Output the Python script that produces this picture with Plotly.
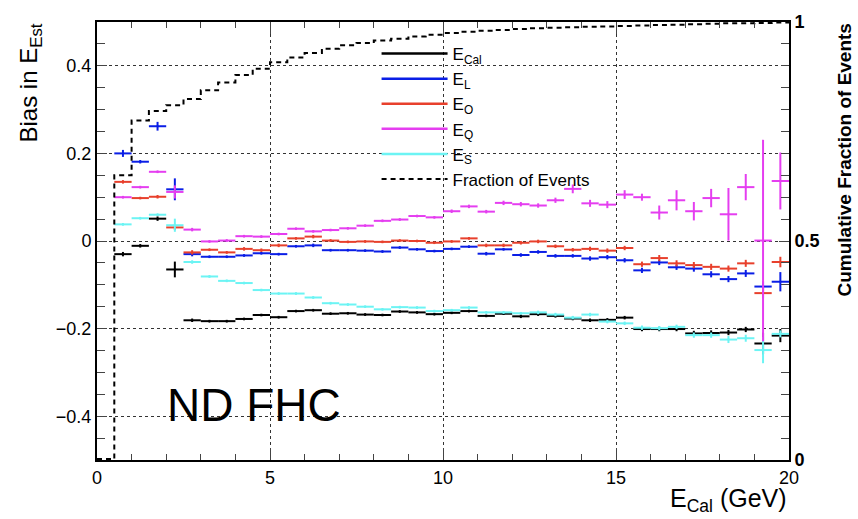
import plotly.graph_objects as go

# ---------------- data ----------------
bin_centers = [0.75 + 0.5 * i for i in range(39)]
half_width = [0.25] * 39

e_cal = [-0.030, -0.011, 0.051, -0.065, -0.181, -0.183, -0.183, -0.178, -0.169, -0.174,
         -0.160, -0.158, -0.166, -0.165, -0.168, -0.169, -0.161, -0.163, -0.167, -0.164,
         -0.160, -0.171, -0.166, -0.172, -0.167, -0.171, -0.177, -0.181, -0.180, -0.175,
         -0.201, -0.201, -0.201, -0.211, -0.210, -0.209, -0.202, -0.234, -0.216]
e_cal_err = [0.005, 0.004, 0.005, 0.018, 0.004, 0.003, 0.003, 0.003, 0.003, 0.003,
             0.003, 0.003, 0.003, 0.003, 0.003, 0.003, 0.003, 0.003, 0.003, 0.003,
             0.003, 0.003, 0.003, 0.004, 0.004, 0.004, 0.004, 0.004, 0.004, 0.004,
             0.005, 0.005, 0.005, 0.006, 0.006, 0.006, 0.006, 0.025, 0.015]

e_l = [0.200, 0.181, 0.262, 0.118, -0.030, -0.036, -0.036, -0.033, -0.028, -0.030,
       -0.012, -0.010, -0.021, -0.021, -0.022, -0.024, -0.015, -0.019, -0.023, -0.018,
       -0.013, -0.029, -0.019, -0.032, -0.025, -0.034, -0.034, -0.040, -0.037, -0.044,
       -0.067, -0.049, -0.060, -0.063, -0.076, -0.087, -0.074, -0.104, -0.093]
e_l_err = [0.008, 0.004, 0.010, 0.025, 0.005, 0.003, 0.003, 0.003, 0.003, 0.003,
           0.003, 0.004, 0.003, 0.003, 0.003, 0.003, 0.003, 0.003, 0.003, 0.003,
           0.003, 0.004, 0.003, 0.004, 0.004, 0.004, 0.004, 0.005, 0.005, 0.005,
           0.006, 0.006, 0.006, 0.007, 0.007, 0.007, 0.008, 0.012, 0.022]

e_o = [0.135, 0.098, 0.101, 0.031, -0.026, -0.020, -0.026, -0.018, -0.021, -0.010,
       0.006, 0.010, 0.001, -0.002, -0.001, -0.002, 0.001, 0.000, -0.004, -0.001,
       0.006, -0.010, -0.010, -0.004, -0.001, -0.012, -0.020, -0.018, -0.022, -0.016,
       -0.053, -0.039, -0.051, -0.055, -0.059, -0.063, -0.051, -0.119, -0.048]
e_o_err = [0.004, 0.003, 0.004, 0.006, 0.005, 0.003, 0.003, 0.004, 0.004, 0.004,
           0.003, 0.004, 0.003, 0.003, 0.003, 0.003, 0.003, 0.003, 0.003, 0.003,
           0.003, 0.004, 0.004, 0.004, 0.004, 0.004, 0.004, 0.005, 0.005, 0.005,
           0.006, 0.007, 0.007, 0.007, 0.007, 0.007, 0.008, 0.012, 0.012]

e_q = [0.100, 0.123, 0.158, 0.112, 0.026, -0.001, 0.001, 0.011, 0.010, 0.016,
       0.028, 0.022, 0.025, 0.029, 0.035, 0.046, 0.049, 0.057, 0.054, 0.068,
       0.079, 0.067, 0.087, 0.084, 0.081, 0.093, 0.119, 0.086, 0.083, 0.106,
       0.100, 0.065, 0.093, 0.068, 0.098, 0.061, 0.123, 0.001, 0.137]
e_q_err = [0.003, 0.003, 0.003, 0.015, 0.004, 0.003, 0.003, 0.003, 0.003, 0.003,
           0.003, 0.003, 0.003, 0.003, 0.003, 0.003, 0.003, 0.003, 0.003, 0.004,
           0.004, 0.004, 0.005, 0.005, 0.005, 0.006, 0.010, 0.008, 0.008, 0.010,
           0.008, 0.016, 0.023, 0.021, 0.021, 0.060, 0.030, 0.230, 0.065]

e_s = [0.038, 0.052, 0.060, 0.036, -0.048, -0.081, -0.091, -0.096, -0.112, -0.120,
       -0.120, -0.129, -0.142, -0.145, -0.150, -0.156, -0.151, -0.152, -0.160, -0.158,
       -0.152, -0.163, -0.163, -0.165, -0.163, -0.168, -0.175, -0.168, -0.184, -0.188,
       -0.198, -0.199, -0.196, -0.215, -0.215, -0.225, -0.222, -0.249, -0.212]
e_s_err = [0.003, 0.003, 0.003, 0.015, 0.004, 0.003, 0.003, 0.003, 0.003, 0.003,
           0.003, 0.003, 0.003, 0.003, 0.003, 0.003, 0.003, 0.003, 0.003, 0.003,
           0.003, 0.003, 0.003, 0.003, 0.004, 0.004, 0.004, 0.004, 0.004, 0.004,
           0.005, 0.005, 0.005, 0.006, 0.006, 0.008, 0.008, 0.030, 0.008]

frac_edges = [0.5 * i for i in range(41)]
frac_events = [0.002, 0.650, 0.775, 0.797, 0.810, 0.824, 0.844, 0.862, 0.879, 0.893,
               0.908, 0.919, 0.929, 0.939, 0.947, 0.952, 0.958, 0.962, 0.967, 0.971,
               0.975, 0.978, 0.980, 0.982, 0.984, 0.986, 0.987, 0.988, 0.989, 0.990,
               0.991, 0.992, 0.993, 0.994, 0.995, 0.996, 0.997, 0.997, 0.998, 0.999]

y_tick_vals = [-0.4, -0.2, 0, 0.2, 0.4]
y_tick_text = ["\u22120.4", "\u22120.2", "0", "0.2", "0.4"]
y2_tick_vals = [0, 0.5, 1]
y2_tick_text = ["<b>0</b>", "<b>0.5</b>", "<b>1</b>"]

series = [
    ("E<sub>Cal</sub>", e_cal, e_cal_err, "#000000"),
    ("E<sub>L</sub>", e_l, e_l_err, "#0a1ee6"),
    ("E<sub>O</sub>", e_o, e_o_err, "#e8402c"),
    ("E<sub>Q</sub>", e_q, e_q_err, "#e53ef0"),
    ("E<sub>S</sub>", e_s, e_s_err, "#6cf4f4"),
]

FONT = "Liberation Sans, Arial, Helvetica, sans-serif"

fig = go.Figure()

# cumulative fraction (right axis)
fig.add_trace(go.Scatter(
    x=frac_edges, y=frac_events + [frac_events[-1]], yaxis="y2",
    mode="lines", line=dict(color="black", width=2, dash="5px,4px", shape="hv"),
    showlegend=False, hoverinfo="skip"))

for idx in [0, 1, 2, 4, 3]:
    name, vals, errs, col = series[idx]
    fig.add_trace(go.Scatter(
        x=bin_centers, y=vals, mode="markers",
        marker=dict(size=2, color=col),
        error_x=dict(type="data", array=half_width, color=col, thickness=2, width=0),
        error_y=dict(type="data", array=errs, color=col, thickness=2, width=0),
        showlegend=False))

# legend entries
for name, vals, errs, col in series:
    fig.add_trace(go.Scatter(x=[None], y=[None], mode="lines", name=name,
                             line=dict(color=col, width=2.5)))
fig.add_trace(go.Scatter(x=[None], y=[None], mode="lines", name="Fraction of Events",
                         line=dict(color="black", width=2, dash="5px,4px")))

fig.update_layout(
    width=858, height=519,
    margin=dict(l=97, r=69, t=12, b=59),
    paper_bgcolor="white", plot_bgcolor="white",
    font=dict(family=FONT, color="black", size=17),
    xaxis=dict(range=[0, 20], dtick=5, tick0=0, ticks="inside", ticklen=12, tickwidth=1,
               showline=True, linecolor="black", linewidth=2, mirror="ticks",
               showgrid=True, gridcolor="#333", griddash="dot", gridwidth=1,
               zeroline=False, tickfont=dict(size=18),
               minor=dict(dtick=1, ticks="inside", ticklen=6, showgrid=False)),
    yaxis=dict(range=[-0.5, 0.5], tickvals=y_tick_vals, ticktext=y_tick_text,
               ticks="inside", ticklen=10,
               showline=True, linecolor="black", linewidth=2, mirror=True,
               showgrid=True, gridcolor="#333", griddash="dot", gridwidth=1,
               zeroline=False, tickfont=dict(size=18),
               minor=dict(dtick=0.05, tick0=0, ticks="inside", ticklen=8, showgrid=False)),
    yaxis2=dict(range=[0, 1], overlaying="y", side="right", tickvals=y2_tick_vals,
                ticktext=y2_tick_text, ticks="inside",
                ticklen=10, showline=True, linecolor="black", linewidth=2,
                showgrid=False, zeroline=False, tickfont=dict(size=18),
                minor=dict(dtick=0.05, ticks="inside", ticklen=8)),
    legend=dict(x=0.404, y=0.968, xanchor="left", yanchor="top",
                bgcolor="rgba(0,0,0,0)", font=dict(size=17), itemwidth=66,
                tracegroupgap=0),
    showlegend=True,
)

fig.add_annotation(text="Bias in E<sub>Est</sub>", xref="paper", yref="paper",
                   x=0, y=1, xshift=-67, xanchor="center", yanchor="top",
                   textangle=-90, showarrow=False, font=dict(size=24))
fig.add_annotation(text="E<sub>Cal</sub> (GeV)", xref="paper", yref="paper",
                   x=1, y=0, yshift=-22, xanchor="right", yanchor="top",
                   showarrow=False, font=dict(size=25))
fig.add_annotation(text="<b>Cumulative Fraction of Events</b>", xref="paper", yref="paper",
                   x=1, y=1, xshift=55, xanchor="center", yanchor="top",
                   textangle=-90, showarrow=False, font=dict(size=19))
fig.add_annotation(text="ND FHC", x=4.55, y=-0.375, xref="x", yref="y",
                   showarrow=False, font=dict(size=46))

fig.write_html("out.html")
